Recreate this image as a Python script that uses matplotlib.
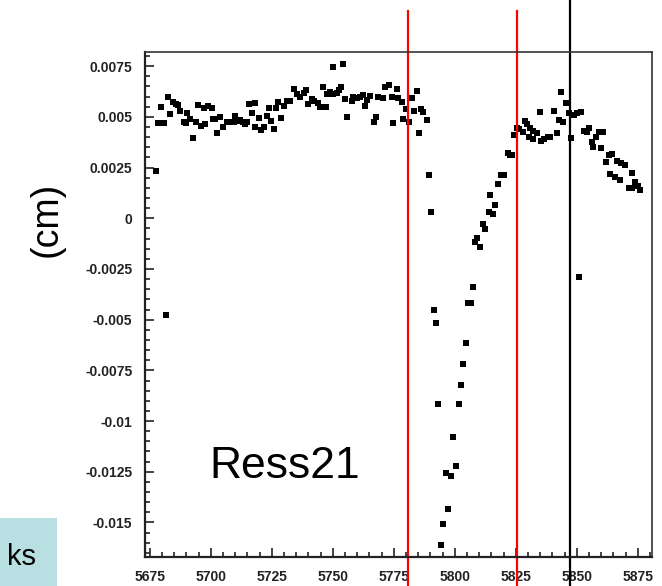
import numpy as np
import matplotlib
matplotlib.use('Agg')
import matplotlib.pyplot as plt
from matplotlib.patches import Rectangle
from matplotlib.ticker import MultipleLocator

# run number vs residual (cm)
run = [5677.6, 5678.3, 5679.6, 5680.6, 5679.5, 5682.6, 5683.4, 5684.4, 5685.8, 5686.7,
       5687.4, 5688.8, 5689.8, 5690.4, 5691.5, 5692.6, 5694.0, 5694.7, 5695.9, 5697.0,
       5697.7, 5699.0, 5700.4, 5700.8, 5701.8, 5702.7, 5703.8, 5704.8, 5706.6, 5707.9,
       5709.3, 5709.7, 5710.7, 5712.0, 5713.0, 5714.1, 5714.8, 5715.8, 5716.8, 5718.2,
       5717.9, 5719.9, 5720.6, 5721.6, 5723.0, 5723.9, 5724.7, 5725.9, 5726.8, 5727.7,
       5728.8, 5729.8, 5731.1, 5732.5, 5733.9, 5735.2, 5736.6, 5738.0, 5739.1, 5740.0,
       5741.4, 5742.3, 5744.1, 5744.8, 5745.9, 5747.1, 5745.9, 5747.8, 5748.9, 5750.0,
       5750.0, 5751.6, 5752.7, 5753.3, 5754.1, 5755.0, 5756.0, 5757.8, 5758.4, 5759.8,
       5761.2, 5762.5, 5763.2, 5764.2, 5765.3, 5766.9, 5767.7, 5768.7, 5770.5, 5771.4,
       5773.2, 5774.2, 5774.8, 5776.2, 5776.9, 5778.3, 5778.9, 5780.0, 5781.4, 5782.4,
       5783.4, 5784.4, 5785.2, 5786.2, 5787.1, 5788.5, 5789.3, 5790.3, 5791.5, 5792.3,
       5793.3, 5794.3, 5795.3, 5796.3, 5797.4, 5798.5, 5799.4, 5800.5, 5801.5, 5802.5,
       5803.5, 5804.5, 5805.3, 5806.6, 5807.4, 5808.3, 5809.0, 5810.2, 5811.5, 5812.4,
       5813.8, 5815.6, 5816.5, 5814.5, 5817.6, 5818.9, 5820.2, 5821.6, 5822.7, 5823.5,
       5824.4, 5825.4, 5826.5, 5827.9, 5828.8, 5829.5, 5830.9, 5832.2, 5833.6, 5830.5,
       5832.2, 5834.7, 5835.4, 5836.6, 5838.0, 5839.1, 5840.7, 5841.8, 5842.5, 5844.5,
       5843.4, 5845.6, 5846.6, 5847.7, 5848.9, 5850.0, 5851.8, 5850.7, 5853.0, 5854.1,
       5854.8, 5856.1, 5856.8, 5857.9, 5858.9, 5860.7, 5859.8, 5863.0, 5864.3, 5861.9,
       5866.6, 5868.0, 5869.8, 5872.8, 5863.6, 5865.7, 5867.7, 5871.2, 5872.5, 5873.9,
       5875.0, 5876.0, 5681.7]
resid = [0.00233, 0.00468, 0.00468, 0.0047, 0.0055, 0.0060, 0.00513, 0.00575, 0.00564, 0.00559,
         0.00529, 0.00476, 0.00468, 0.00518, 0.00488, 0.00397, 0.00476, 0.00559, 0.00457, 0.00542,
         0.00465, 0.00554, 0.00545, 0.00491, 0.00491, 0.00422, 0.00498, 0.00449, 0.00473, 0.00473,
         0.00476, 0.00506, 0.00481, 0.00485, 0.00473, 0.00465, 0.00476, 0.00562, 0.00518, 0.00567,
         0.00452, 0.00496, 0.00435, 0.00452, 0.00504, 0.00545, 0.00481, 0.0044, 0.00542, 0.00572,
         0.00496, 0.00554, 0.00578, 0.00578, 0.00636, 0.00611, 0.0060, 0.00619, 0.00633, 0.00562,
         0.00587, 0.00578, 0.0057, 0.00547, 0.00547, 0.00547, 0.00646, 0.00613, 0.00624, 0.00611,
         0.00745, 0.00619, 0.00633, 0.00646, 0.00761, 0.00587, 0.00498, 0.00578, 0.00597, 0.00592,
         0.00597, 0.00608, 0.00554, 0.00583, 0.00603, 0.00476, 0.00498, 0.0060, 0.00592, 0.00649,
         0.00657, 0.0060, 0.00468, 0.00636, 0.00595, 0.00575, 0.00488, 0.00537, 0.00473, 0.00595,
         0.00531, 0.00628, 0.00422, 0.00537, 0.00526, 0.00485, 0.00214, 0.00033, -0.00452, -0.00515,
         -0.00917, -0.01611, -0.01509, -0.01257, -0.01433, -0.01271, -0.01077, -0.0122, -0.00917, -0.00822,
         -0.00718, -0.00616, -0.0042, -0.0042, -0.0034, -0.00118, -0.00099, -0.0014, -0.0003, -0.00053,
         0.00033, 0.00021, 0.00066, 0.00115, 0.00169, 0.00214, 0.00214, 0.0032, 0.00312, 0.00312,
         0.00411, 0.00447, 0.00439, 0.00427, 0.00481, 0.00463, 0.00444, 0.00432, 0.00422, 0.00399,
         0.0039, 0.00522, 0.00381, 0.0039, 0.00399, 0.00399, 0.00529, 0.00419, 0.00485, 0.00476,
         0.00624, 0.0057, 0.00518, 0.00394, 0.0051, 0.00518, 0.00523, -0.00291, 0.0043, 0.00427,
         0.00444, 0.00378, 0.00353, 0.00402, 0.00427, 0.00424, 0.00348, 0.00312, 0.00317, 0.00276,
         0.00284, 0.00271, 0.00263, 0.00225, 0.00218, 0.00205, 0.00189, 0.00151, 0.00151, 0.0018,
         0.00159, 0.0014, -0.00478]

red_runs = [5780.7, 5825.4]
black_runs = [5847.4]

xticks = [5675, 5700, 5725, 5750, 5775, 5800, 5825, 5850, 5875]
yticks = [0.0075, 0.005, 0.0025, 0, -0.0025, -0.005, -0.0075, -0.01, -0.0125, -0.015]
ytick_labels = ['0.0075', '0.005', '0.0025', '0', '-0.0025', '-0.005', '-0.0075', '-0.01', '-0.0125', '-0.015']

fig = plt.figure(figsize=(6.62, 5.86), dpi=100)
ax = fig.add_axes([0.219, 0.0503, 0.7655, 0.861])

ax.plot(run, resid, 's', color='black', markersize=4, markeredgewidth=0)

ax.set_xlim(5673, 5880.7)
ax.set_ylim(-0.01668, 0.0082)

ax.set_xticks(xticks)
ax.set_xticklabels([str(t) for t in xticks])
ax.set_yticks(yticks)
ax.set_yticklabels(ytick_labels)
ax.xaxis.set_minor_locator(MultipleLocator(5))
ax.yaxis.set_minor_locator(MultipleLocator(0.0005))
ax.tick_params(which='both', direction='in', top=False, right=False, width=1.2, color='#222222')
ax.tick_params(which='major', length=6.5)
ax.tick_params(which='minor', length=3.5)
ax.tick_params(axis='x', which='major', pad=9.5)
ax.tick_params(axis='y', which='major', pad=9)
for lab in ax.get_xticklabels() + ax.get_yticklabels():
    lab.set_fontfamily('Liberation Sans')
    lab.set_fontweight('bold')
    lab.set_fontsize(10)
    lab.set_color('#222222')

for side in ['left', 'bottom']:
    ax.spines[side].set_linewidth(1.6)
    ax.spines[side].set_color('#222222')
for side in ['top', 'right']:
    ax.spines[side].set_linewidth(1.2)
    ax.spines[side].set_color('#333333')

for xr in red_runs:
    ax.axvline(xr, ymin=-0.06, ymax=1.082, color='red', lw=1.6, clip_on=False)
for xb in black_runs:
    ax.axvline(xb, ymin=-0.06, ymax=1.11, color='black', lw=1.6, clip_on=False)

fig.text(0.4305, 0.1838, 'Ress21', fontsize=32, family='Liberation Sans',
         ha='center', va='baseline')
fig.text(0.07, 0.625, '(cm)', fontsize=27, family='Liberation Sans',
         rotation=90, ha='center', va='center')

fig.patches.append(Rectangle((0, 0), 0.0857, 0.116, transform=fig.transFigure,
                             facecolor='#b8e0e3', edgecolor='none', zorder=0))
fig.text(0.055, 0.036, 'ks', fontsize=21, family='Liberation Sans',
         ha='right', va='baseline')

fig.savefig('out.png', dpi=100)
